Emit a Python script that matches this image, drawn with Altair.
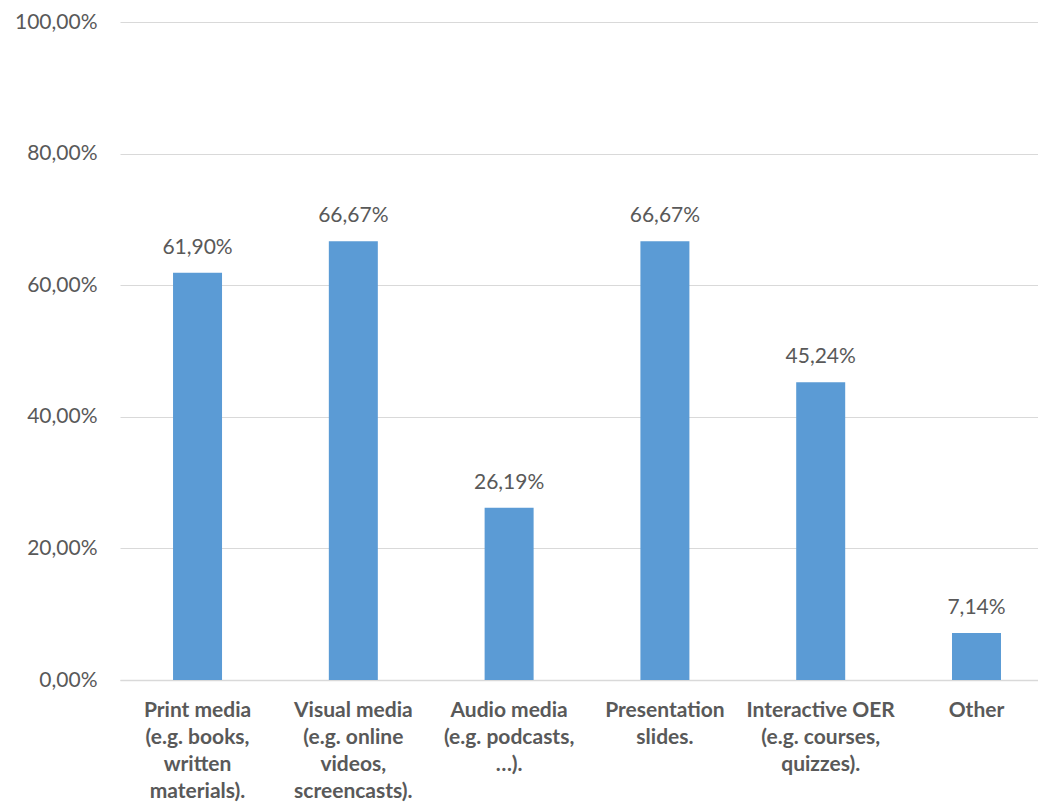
import altair as alt
import pandas as pd

categories = [
    "Print media|(e.g. books,|written|materials).",
    "Visual media|(e.g. online|videos,|screencasts).",
    "Audio media|(e.g. podcasts,|…).",
    "Presentation|slides.",
    "Interactive OER|(e.g. courses,|quizzes).",
    "Other",
]
values = [61.90, 66.67, 26.19, 66.67, 45.24, 7.14]
y_ticks = [0, 20, 40, 60, 80, 100]

df = pd.DataFrame({"cat": categories, "v": values})

FONT = "Lato"
TXT = "#595959"

base = alt.Chart(df).transform_calculate(
    lbl="replace(format(datum.v, '.2f'), '.', ',') + '%'"
)

xscale = alt.Scale(paddingInner=0.6855, paddingOuter=0.289, align=0.589)

x = alt.X(
    "cat:N",
    sort=categories,
    title=None,
    scale=xscale,
    axis=alt.Axis(
        labelExpr="split(datum.value, '|')",
        labelAngle=0,
        labelFont=FONT,
        labelFontSize=21,
        labelFontWeight="bold",
        labelColor=TXT,
        labelLineHeight=27,
        labelPadding=19,
        labelBaseline="top",
        ticks=False,
        domain=True,
        domainColor="#d9d9d9",
        domainWidth=1.5,
        grid=False,
        labelLimit=0,
        labelOverlap=False,
    ),
)

y = alt.Y(
    "v:Q",
    title=None,
    scale=alt.Scale(domain=[0, 100]),
    axis=alt.Axis(
        values=y_ticks,
        labelExpr="replace(format(datum.value, '.2f'), '.', ',') + '%'",
        labelFont=FONT,
        labelFontSize=21,
        labelColor=TXT,
        labelPadding=23,
        ticks=False,
        domain=False,
        grid=True,
        gridColor="#d9d9d9",
        gridWidth=1.2,
    ),
)

bars = base.mark_bar(color="#5B9BD5").encode(x=x, y=y)
text = base.mark_text(
    dy=-25, font=FONT, fontSize=21, color=TXT, baseline="middle"
).encode(x=x, y=y, text="lbl:N")

chart = (
    alt.layer(bars, text)
    .properties(
        width=918,
        height=658,
        background="white",
        autosize=alt.AutoSizeParams(type="none"),
        padding={"left": 112, "top": 14, "right": 0, "bottom": 122},
    )
    .configure_view(strokeWidth=0)
    .configure_axisY(domain=False)
)

chart.save("out.html", embed_options={"renderer": "svg", "actions": False})
